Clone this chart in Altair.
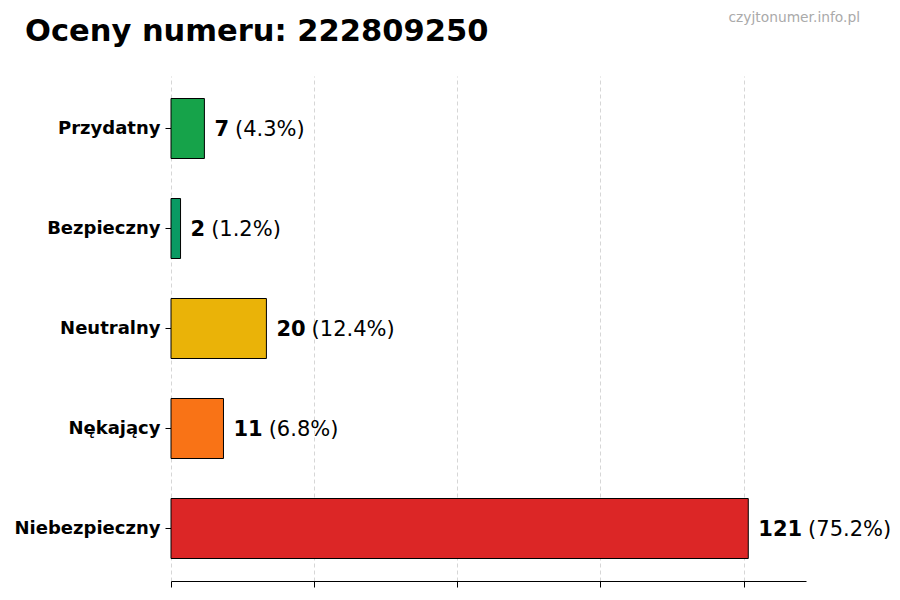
import altair as alt
import pandas as pd

categories = ["Przydatny", "Bezpieczny", "Neutralny", "Nękający", "Niebezpieczny"]
counts = [7, 2, 20, 11, 121]
percents = [4.3, 1.2, 12.4, 6.8, 75.2]
colors = ["#16a34a", "#0a9a63", "#eab308", "#f97316", "#dc2626"]
tick_values = [0, 30, 60, 90, 120]
title_text = "Oceny numeru: 222809250"
watermark = "czyjtonumer.info.pl"

df = pd.DataFrame({"cat": categories, "count": counts, "pct": percents})

FONT = "DejaVu Sans"

y_enc = alt.Y(
    "cat:N",
    sort=categories,
    scale=alt.Scale(paddingInner=0.4, paddingOuter=0.225),
    axis=alt.Axis(
        title=None, domain=False, ticks=True, tickColor="black", tickSize=6,
        labelFontSize=18, labelFontWeight="bold", labelColor="black",
        labelFont=FONT, labelPadding=5, grid=False,
    ),
)
x_enc = alt.X(
    "count:Q",
    scale=alt.Scale(domain=[0, 133.1], nice=False, zero=True),
    axis=alt.Axis(
        title=None, labels=False, values=tick_values, domain=True,
        domainColor="black", domainWidth=1, ticks=True, tickColor="black",
        tickSize=6, grid=True, gridColor="#cccccc", gridDash=[4, 3],
        gridWidth=0.8,
    ),
)

base = alt.Chart(df)

bars = base.mark_bar(stroke="black", strokeWidth=1).encode(
    x=x_enc,
    y=y_enc,
    color=alt.Color("cat:N", scale=alt.Scale(domain=categories, range=colors), legend=None),
)

nums = base.mark_text(
    align="left", baseline="middle", dx=10, dy=1, fontSize=21, fontWeight="bold",
    font=FONT, color="black",
).encode(x="count:Q", y=alt.Y("cat:N", sort=categories), text="count:Q")

pcts = base.transform_calculate(
    lbl="'(' + format(datum.pct, '.1f') + '%)'",
).mark_text(
    align="left", baseline="middle", fontSize=21, font=FONT, color="black",
    dy=1,
    dx=alt.ExprRef("16 + length(toString(datum.count)) * 14.6"),
).encode(
    x="count:Q",
    y=alt.Y("cat:N", sort=categories),
    text="lbl:N",
)

ttl = alt.Chart(pd.DataFrame({"t": [title_text]})).mark_text(
    align="left", baseline="alphabetic", fontSize=30.5, fontWeight="bold",
    font=FONT, color="black",
).encode(text="t:N", x=alt.value(-146), y=alt.value(-35))

wm = alt.Chart(pd.DataFrame({"t": [watermark]})).mark_text(
    align="right", baseline="middle", fontSize=13.8, font=FONT, color="#aaaaaa",
).encode(text="t:N", x=alt.value(689), y=alt.value(-58))

chart = alt.layer(bars, nums, pcts, ttl, wm).properties(
    width=635,
    height=505,
    autosize=alt.AutoSizeParams(type="none"),
    padding={"left": 163, "top": 68, "right": 85, "bottom": 9},
).configure_view(stroke=None)

chart.save("out.html", embed_options={"renderer": "svg", "actions": False})
